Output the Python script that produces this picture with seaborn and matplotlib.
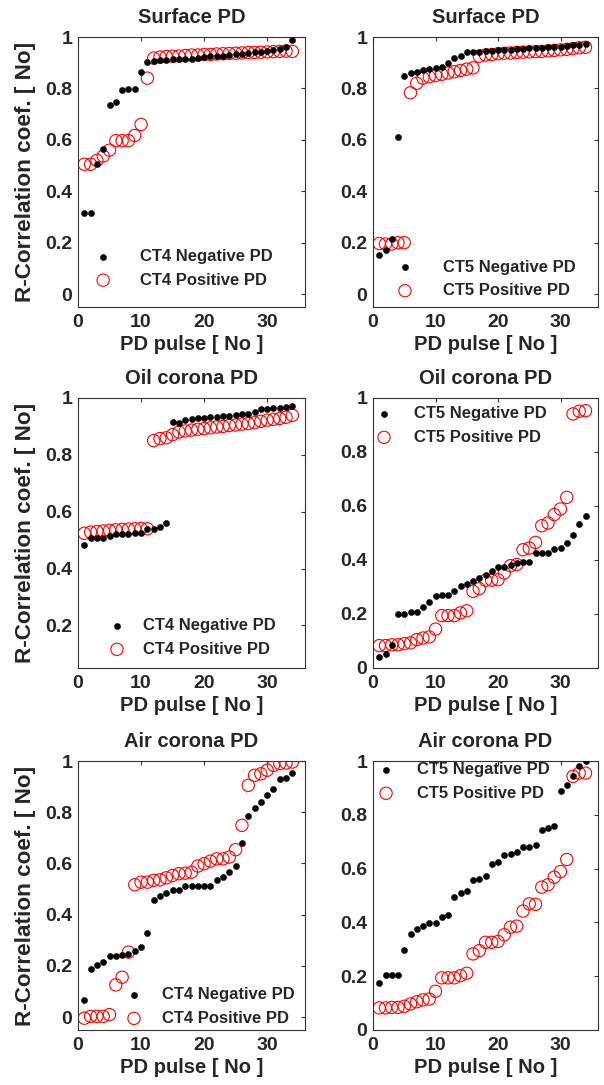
import matplotlib
matplotlib.use("Agg")
import matplotlib.pyplot as plt
import seaborn as sns
import pandas as pd

pulse = list(range(1, 35))

surf_ct4_neg = [0.317, 0.317, 0.507, 0.563, 0.737, 0.748, 0.793, 0.798, 0.798, 0.863, 0.902, 0.905,
                0.910, 0.912, 0.913, 0.913, 0.914, 0.915, 0.920, 0.922, 0.925, 0.926, 0.928, 0.930,
                0.932, 0.935, 0.938, 0.940, 0.942, 0.945, 0.948, 0.952, 0.960, 0.987]
surf_ct4_pos = [0.505, 0.505, 0.520, 0.537, 0.560, 0.597, 0.597, 0.597, 0.617, 0.660, 0.840, 0.918,
                0.922, 0.924, 0.925, 0.926, 0.928, 0.930, 0.930, 0.932, 0.932, 0.934, 0.935, 0.936,
                0.937, 0.938, 0.940, 0.940, 0.941, 0.942, 0.943, 0.944, 0.945, 0.944]
surf_ct5_neg = [0.151, 0.172, 0.213, 0.612, 0.850, 0.860, 0.865, 0.870, 0.875, 0.878, 0.885, 0.900,
                0.920, 0.925, 0.940, 0.940, 0.942, 0.944, 0.946, 0.948, 0.950, 0.951, 0.952, 0.954,
                0.956, 0.957, 0.958, 0.960, 0.961, 0.963, 0.965, 0.968, 0.970, 0.973]
surf_ct5_pos = [0.197, 0.195, 0.195, 0.200, 0.200, 0.783, 0.820, 0.840, 0.845, 0.850, 0.855, 0.860,
                0.865, 0.870, 0.875, 0.880, 0.925, 0.930, 0.932, 0.935, 0.937, 0.938, 0.940, 0.941,
                0.942, 0.943, 0.944, 0.946, 0.948, 0.950, 0.952, 0.955, 0.958, 0.960]
oil_ct4_neg = [0.483, 0.509, 0.509, 0.509, 0.515, 0.520, 0.522, 0.523, 0.524, 0.526, 0.538, 0.540,
               0.547, 0.561, 0.915, 0.912, 0.922, 0.925, 0.928, 0.930, 0.932, 0.934, 0.936, 0.938,
               0.940, 0.942, 0.945, 0.950, 0.960, 0.962, 0.964, 0.966, 0.968, 0.973]
oil_ct4_pos = [0.524, 0.528, 0.530, 0.532, 0.534, 0.536, 0.538, 0.539, 0.540, 0.541, 0.540, 0.850,
               0.857, 0.860, 0.871, 0.880, 0.884, 0.887, 0.890, 0.892, 0.895, 0.898, 0.900, 0.903,
               0.905, 0.908, 0.910, 0.913, 0.918, 0.922, 0.925, 0.928, 0.932, 0.939]
oil_ct5_neg = [0.041, 0.053, 0.086, 0.200, 0.200, 0.206, 0.206, 0.225, 0.244, 0.268, 0.272, 0.272,
               0.284, 0.302, 0.311, 0.321, 0.333, 0.346, 0.360, 0.374, 0.374, 0.383, 0.389, 0.391,
               0.393, 0.426, 0.426, 0.426, 0.442, 0.444, 0.463, 0.494, 0.535, 0.562]
oil_ct5_pos = [0.083, 0.083, 0.086, 0.086, 0.090, 0.093, 0.105, 0.111, 0.115, 0.144, 0.194, 0.194,
               0.194, 0.204, 0.212, 0.284, 0.294, 0.325, 0.325, 0.327, 0.352, 0.379, 0.383, 0.438,
               0.444, 0.465, 0.527, 0.537, 0.568, 0.589, 0.632, 0.941, 0.951, 0.953]
air_ct4_neg = [0.069, 0.189, 0.204, 0.217, 0.237, 0.237, 0.241, 0.247, 0.260, 0.273, 0.329, 0.458,
               0.475, 0.484, 0.495, 0.497, 0.512, 0.512, 0.512, 0.512, 0.512, 0.536, 0.547, 0.566,
               0.590, 0.680, 0.784, 0.816, 0.840, 0.868, 0.892, 0.931, 0.934, 0.954]
air_ct4_pos = [-0.004, 0.003, 0.003, 0.003, 0.010, 0.126, 0.156, 0.254, 0.517, 0.527, 0.527, 0.534,
               0.536, 0.544, 0.553, 0.560, 0.562, 0.566, 0.590, 0.599, 0.609, 0.618, 0.618, 0.625,
               0.654, 0.749, 0.905, 0.944, 0.950, 0.964, 0.983, 0.990, 0.992, 0.996]
air_ct5_neg = [0.175, 0.205, 0.205, 0.205, 0.299, 0.357, 0.376, 0.386, 0.397, 0.397, 0.419, 0.427,
               0.494, 0.509, 0.516, 0.556, 0.562, 0.574, 0.618, 0.624, 0.649, 0.653, 0.661, 0.682,
               0.682, 0.686, 0.742, 0.752, 0.757, 0.887, 0.912, 0.943, 0.980, 1.000]
air_ct5_pos = [0.082, 0.082, 0.084, 0.084, 0.088, 0.097, 0.105, 0.112, 0.115, 0.144, 0.194, 0.194,
               0.194, 0.202, 0.211, 0.283, 0.295, 0.326, 0.326, 0.329, 0.354, 0.382, 0.386, 0.442,
               0.469, 0.467, 0.531, 0.540, 0.568, 0.589, 0.634, 0.943, 0.955, 0.955]

titles = ["Surface PD", "Surface PD", "Oil corona PD", "Oil corona PD", "Air corona PD", "Air corona PD"]
neg_labels = ["CT4 Negative PD", "CT5 Negative PD"] * 3
pos_labels = ["CT4 Positive PD", "CT5 Positive PD"] * 3
neg_series = [surf_ct4_neg, surf_ct5_neg, oil_ct4_neg, oil_ct5_neg, air_ct4_neg, air_ct5_neg]
pos_series = [surf_ct4_pos, surf_ct5_pos, oil_ct4_pos, oil_ct5_pos, air_ct4_pos, air_ct5_pos]
x_ticks = [0, 10, 20, 30]
y_ticks = [0, 0.2, 0.4, 0.6, 0.8, 1]
y_tick_labels = ["0", "0.2", "0.4", "0.6", "0.8", "1"]

sns.set_theme(style="white")
plt.rcParams["font.family"] = ["Liberation Sans", "DejaVu Sans"]
plt.rcParams["font.weight"] = "bold"
plt.rcParams["axes.titleweight"] = "bold"
plt.rcParams["axes.labelweight"] = "bold"

W, H = 604, 1085
fig = plt.figure(figsize=(W / 100, H / 100), dpi=100)
fig.patch.set_facecolor("white")

# axes rectangles in pixels (left, top, right, bottom)
rects = [(78, 37, 305, 307), (373, 37, 598, 307),
         (78, 398, 305, 668), (373, 398, 598, 668),
         (78, 761, 305, 1030), (373, 761, 598, 1030)]
ylims = [(-0.05, 1.0), (-0.05, 1.0), (0.05, 1.0), (0.0, 1.0), (-0.05, 1.0), (0.0, 1.0)]
leg_pos = [(0.074, 0.143), (0.105, 0.104), (0.135, 0.113), (0.012, 0.898), (0.21, 0.087), (0.021, 0.924)]
leg_pad = [1.7, 1.8, 1.06, 1.3, 1.2, 1.35]

for i in range(6):
    l, t, r, b = rects[i]
    ax = fig.add_axes([l / W, 1 - b / H, (r - l) / W, (b - t) / H])
    df = pd.DataFrame({"pulse": pulse, "neg": neg_series[i], "pos": pos_series[i]})
    sns.scatterplot(data=df, x="pulse", y="neg", ax=ax, color="black", marker="o", s=20,
                    edgecolor="black", linewidth=0.3, label=neg_labels[i], zorder=3)
    sns.scatterplot(data=df, x="pulse", y="pos", ax=ax, marker="o", s=78,
                    facecolor="none", edgecolor="#ff0000", linewidth=0.8,
                    label=pos_labels[i], zorder=2)
    ax.set_xlim(0, 36)
    ax.set_ylim(*ylims[i])
    ax.set_xticks(x_ticks)
    ax.set_xticklabels([str(v) for v in x_ticks])
    yt = [(v, s) for v, s in zip(y_ticks, y_tick_labels) if ylims[i][0] <= v <= ylims[i][1] + 1e-9]
    ax.set_yticks([v for v, _ in yt])
    ax.set_yticklabels([s for _, s in yt])
    ax.tick_params(axis="both", direction="in", length=3, width=0.8, color="#333333",
                   top=True, right=True, labelsize=14)
    ax.tick_params(axis="x", pad=5)
    ax.tick_params(axis="y", pad=4)
    for sp in ax.spines.values():
        sp.set_visible(True)
        sp.set_color("#333333")
        sp.set_linewidth(0.8)
    ax.set_title(titles[i], fontsize=14.5, fontweight="bold", pad=10)
    ax.set_xlabel("PD pulse [ No ]", fontsize=14.5, fontweight="bold", labelpad=3)
    if i % 2 == 0:
        ax.set_ylabel("R-Correlation coef. [ No]", fontsize=16.2, fontweight="bold", labelpad=7)
    else:
        ax.set_ylabel("")
    ax.legend(loc="center left", bbox_to_anchor=leg_pos[i], frameon=False, fontsize=12,
              borderpad=0, borderaxespad=0, handlelength=1.0, handletextpad=leg_pad[i],
              labelspacing=0.5, prop={"weight": "bold", "size": 12})

fig.savefig("out.png", dpi=100, facecolor="white")
